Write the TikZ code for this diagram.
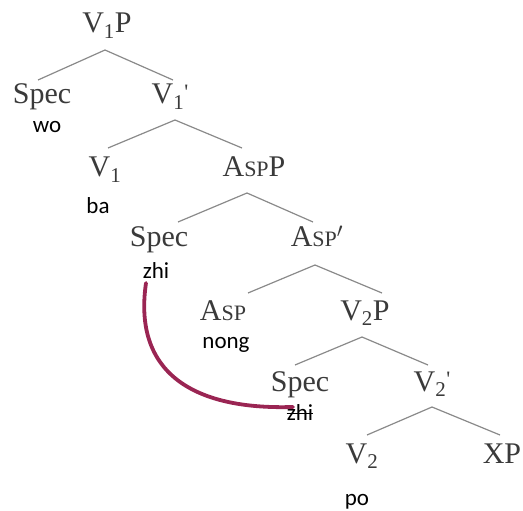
\documentclass[tikz,border=0pt]{standalone}
\usepackage{fontspec}
\setmainfont{Liberation Serif}
\newfontfamily\glossfont{Carlito}
\definecolor{treegray}{HTML}{8A8A8A}
\definecolor{movecol}{HTML}{9A2553}
\definecolor{labgray}{HTML}{3A3A3A}
\newcommand{\mysc}[1]{{\fontsize{22}{24}\selectfont #1}}
\newcommand{\tick}{\raisebox{5pt}{\fontsize{22}{24}\selectfont\textquotesingle}}
\begin{document}
\begin{tikzpicture}[x=1pt,y=-1pt,
  cat/.style={anchor=base,inner sep=0pt,text=labgray,font=\fontsize{30}{34}\selectfont},
  gloss/.style={anchor=base,inner sep=0pt,text=black,font=\glossfont\fontsize{23}{26}\selectfont},
  branch/.style={draw=treegray,line width=1.2pt},
  move/.style={draw=movecol,line width=3.8pt,line cap=round}]
\useasboundingbox (0,0) rectangle (523,511);
% category nodes
\node[cat] (v1p) at (107,33) {V\textsubscript{1}P};
\node[cat] (spec1) at (42,103) {Spec};
\node[cat] (v1bar) at (170,104) {V\textsubscript{1}\tick};
\node[cat] (v1) at (105,177) {V\textsubscript{1}};
\node[cat] (aspp) at (254,177) {A\mysc{SP}P};
\node[cat] (spec2) at (159,247) {Spec};
\node[cat] (aspbar) at (317,247) {A\mysc{SP}$'$};
\node[cat] (asp) at (223,320) {A\mysc{SP}};
\node[cat] (v2p) at (365,320) {V\textsubscript{2}P};
\node[cat] (spec3) at (300,391) {Spec};
\node[cat] (v2bar) at (432,391) {V\textsubscript{2}\tick};
\node[cat] (v2) at (362,463) {V\textsubscript{2}};
\node[cat] (xp) at (502,463) {XP};
% gloss nodes
\node[gloss] (wo) at (47,133) {wo};
\node[gloss] (ba) at (98,213) {ba};
\node[gloss] (zhi1) at (156,278) {zhi};
\node[gloss] (nong) at (226,348) {nong};
\node[gloss] (zhi2) at (300,420) {zhi};
\node[gloss] (po) at (357,505) {po};
\draw[line width=1pt] ([yshift=6.5pt]zhi2.base west) -- ([yshift=6.5pt]zhi2.base east);
% branch anchor points
\coordinate (a1) at (105,50);  \coordinate (l1) at (38,80);  \coordinate (r1) at (173,80);
\coordinate (a2) at (175,120); \coordinate (l2) at (108,148); \coordinate (r2) at (242,148);
\coordinate (a3) at (247,193); \coordinate (l3) at (178,222); \coordinate (r3) at (313,222);
\coordinate (a4) at (315,265); \coordinate (l4) at (248,293); \coordinate (r4) at (382,293);
\coordinate (a5) at (362,337); \coordinate (l5) at (295,365); \coordinate (r5) at (428,365);
\coordinate (a6) at (432,407); \coordinate (l6) at (367,435); \coordinate (r6) at (500,435);
\draw[branch] (l1) -- (a1) -- (r1);
\draw[branch] (l2) -- (a2) -- (r2);
\draw[branch] (l3) -- (a3) -- (r3);
\draw[branch] (l4) -- (a4) -- (r4);
\draw[branch] (l5) -- (a5) -- (r5);
\draw[branch] (l6) -- (a6) -- (r6);
% movement arc
\coordinate (m1) at (146,283);
\coordinate (m2) at (293,407);
\draw[move] (m1) .. controls (133,372) and (192,410) .. (m2);
\end{tikzpicture}
\end{document}
